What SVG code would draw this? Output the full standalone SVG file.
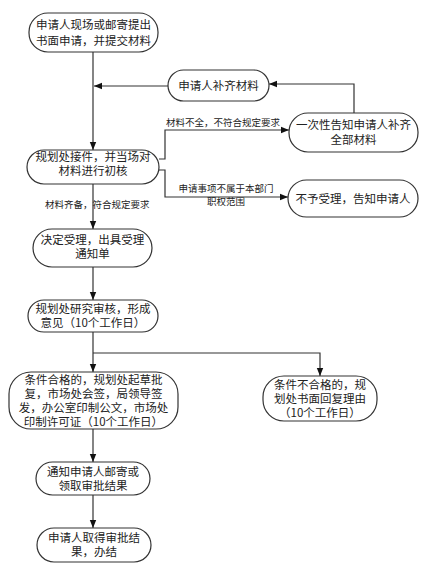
<svg xmlns="http://www.w3.org/2000/svg" width="426" height="574" viewBox="0 0 426 574">
<style>
.box{fill:#fff;stroke:#333;stroke-width:1.2}
.t{font-family:"Noto Sans CJK SC","Liberation Sans",sans-serif;font-size:11.5px;fill:#222;text-anchor:middle}
.lbl{font-family:"Noto Sans CJK SC","Liberation Sans",sans-serif;font-size:9.5px;fill:#222}
.c{fill:none;stroke:#333;stroke-width:1.2}
</style>
<defs>
<marker id="ah" markerUnits="userSpaceOnUse" markerWidth="9" markerHeight="8" refX="8" refY="4" orient="auto">
<path d="M0,0.8 L8,4 L0,7.2 Z" fill="#111"/>
</marker>
</defs>
<rect width="426" height="574" fill="#fff"/>
<g id="connectors">
<path class="c" d="M93,52 V150" marker-end="url(#ah)"/>
<path class="c" d="M168,86 H94" marker-end="url(#ah)"/>
<path class="c" d="M354,113 V84 H269" marker-end="url(#ah)"/>
<path class="c" d="M159,159 H165 V130 H289" marker-end="url(#ah)"/>
<path class="c" d="M159,170 H165 V197 H288" marker-end="url(#ah)"/>
<path class="c" d="M93,184 V229" marker-end="url(#ah)"/>
<path class="c" d="M93,267 V300" marker-end="url(#ah)"/>
<path class="c" d="M93,332 V372" marker-end="url(#ah)"/>
<path class="c" d="M93,353 H320 V376" marker-end="url(#ah)"/>
<path class="c" d="M93,429 V462" marker-end="url(#ah)"/>
<path class="c" d="M93,495 V528" marker-end="url(#ah)"/>
<text class="lbl" x="166" y="126">材料不全，不符合规定要求</text>
<text class="lbl" text-anchor="middle"><tspan x="226" y="192">申请事项不属于本部门</tspan><tspan x="226" y="205">职权范围</tspan></text>
<text class="lbl" x="45" y="208">材料齐备，符合规定要求</text>
</g>
<g id="n1"><rect class="box" x="29" y="13" width="129" height="39" rx="19"/>
<text class="t"><tspan x="93.5" y="29">申请人现场或邮寄提出</tspan><tspan x="93.5" y="44.5">书面申请，并提交材料</tspan></text></g>
<g id="n_supp"><rect class="box" x="168" y="70" width="101" height="31" rx="15.5"/>
<text class="t" x="218.5" y="90">申请人补齐材料</text></g>
<g id="n_notify"><rect class="box" x="289" y="113" width="129" height="39" rx="19"/>
<text class="t"><tspan x="353.5" y="128.5">一次性告知申请人补齐</tspan><tspan x="353.5" y="143.5">全部材料</tspan></text></g>
<g id="n2"><rect class="box" x="27" y="150" width="132" height="34" rx="17"/>
<text class="t"><tspan x="93" y="161">规划处接件，并当场对</tspan><tspan x="93" y="175">材料进行初核</tspan></text></g>
<g id="n_reject"><rect class="box" x="288" y="180" width="130" height="37" rx="18.5"/>
<text class="t" x="353" y="202.5">不予受理，告知申请人</text></g>
<g id="n3"><rect class="box" x="33" y="229" width="119" height="38" rx="19"/>
<text class="t"><tspan x="92.5" y="243.5">决定受理，出具受理</tspan><tspan x="92.5" y="257.5">通知单</tspan></text></g>
<g id="n4"><rect class="box" x="28" y="300" width="130" height="32" rx="16"/>
<text class="t"><tspan x="93" y="313.3">规划处研究审核，形成</tspan><tspan x="93" y="327.3">意见（10个工作日）</tspan></text></g>
<g id="n5a"><rect class="box" x="9" y="372" width="169" height="57" rx="22"/>
<text class="t"><tspan x="93.5" y="383.8">条件合格的，规划处起草批</tspan><tspan x="93.5" y="397.8">复，市场处会签，局领导签</tspan><tspan x="93.5" y="411.8">发，办公室印制公文，市场处</tspan><tspan x="93.5" y="425.8">印制许可证（10个工作日）</tspan></text></g>
<g id="n5b"><rect class="box" x="263" y="376" width="114" height="45" rx="21"/>
<text class="t"><tspan x="320" y="388.8">条件不合格的，规</tspan><tspan x="320" y="402.8">划处书面回复理由</tspan><tspan x="320" y="416.8">（10个工作日）</tspan></text></g>
<g id="n6"><rect class="box" x="36" y="462" width="114" height="33" rx="16.5"/>
<text class="t"><tspan x="93" y="475.8">通知申请人邮寄或</tspan><tspan x="93" y="489.8">领取审批结果</tspan></text></g>
<g id="n7"><rect class="box" x="37" y="528" width="114" height="34" rx="17"/>
<text class="t"><tspan x="94" y="542.3">申请人取得审批结</tspan><tspan x="94" y="556.3">果，办结</tspan></text></g>
</svg>
